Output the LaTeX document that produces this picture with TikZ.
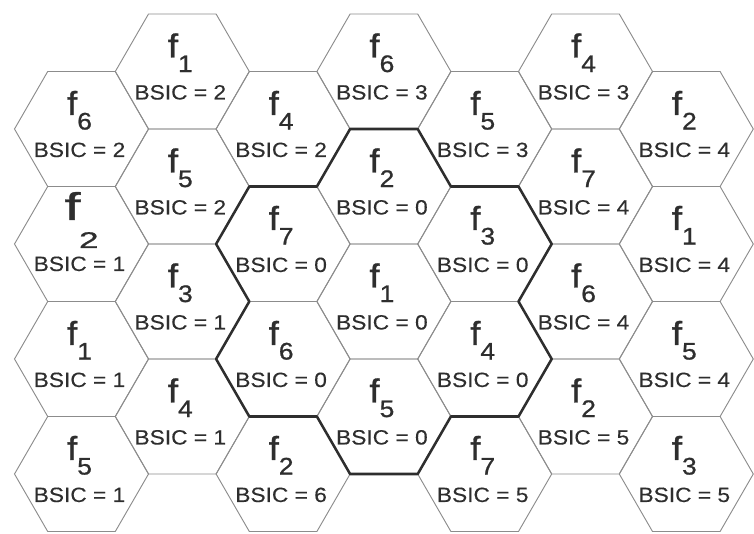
\documentclass[tikz,border=0pt]{standalone}
\usepackage{fontspec}
\setmainfont{Liberation Sans}
\newfontfamily\hexfont[FakeStretch=1.1, FakeBold=0.3]{Liberation Sans}
\newfontfamily\freqfont[FakeStretch=1.1, FakeBold=0.9]{Liberation Sans}
\usepackage{tikz}
\usetikzlibrary{calc}
\definecolor{ink}{HTML}{2E2E2E}
\definecolor{linegray}{HTML}{8C8C8C}
\newcommand\ffont{\freqfont\fontsize{25}{25}\selectfont}
\newcommand\subfont{\freqfont\fontsize{18}{18}\selectfont}
\newcommand\bsicfont{\hexfont\fontsize{15.5}{15.5}\selectfont}
% f with its number, BSIC line below
\newcommand\celltext[2]{%
  \makebox[0pt]{\ffont f\raisebox{-10.9pt}{\subfont #1}\hspace{3pt}}%
  \makebox[0pt]{\raisebox{-31.5pt}{\bsicfont BSIC = #2}\hspace{3pt}}}
\newcommand\bigcelltext[2]{%
  \makebox[0pt]{\scalebox{1.35}[1]{\freqfont\fontsize{29}{29}\selectfont f}%
    \kern-1pt\raisebox{-21pt}{\scalebox{1.4}[1]{\freqfont\fontsize{17}{17}\selectfont #1}}}%
  \makebox[0pt]{\raisebox{-38.25pt}{\bsicfont BSIC = #2}\hspace{3pt}}}
\tikzset{
  cell/.style={inner sep=0pt, outer sep=0pt, text=ink, text height=0pt, text depth=21pt},
  bigcell/.style={cell, text depth=36pt},
  hexline/.style={draw=linegray, line width=0.7pt},
  cluster/.style={draw=ink, line width=1.9pt, line join=round}
}

\begin{document}
\begin{tikzpicture}[x=0.75pt, y=-0.75pt]
  \useasboundingbox (0,0) rectangle (754,534);
  \clip (0,0) rectangle (754,534);
  % column 0
  \node[cell] (n00) at (81.5,129) {\celltext{6}{2}};
  \node[bigcell] (n01) at (81.5,244) {\bigcelltext{2}{1}};
  \node[cell] (n02) at (81.5,359) {\celltext{1}{1}};
  \node[cell] (n03) at (81.5,474) {\celltext{5}{1}};
  % column 1
  \node[cell] (n10) at (182.3,71.5) {\celltext{1}{2}};
  \node[cell] (n11) at (182.3,186.5) {\celltext{5}{2}};
  \node[cell] (n12) at (182.3,301.5) {\celltext{3}{1}};
  \node[cell] (n13) at (182.3,416.5) {\celltext{4}{1}};
  % column 2
  \node[cell] (n20) at (283.1,129) {\celltext{4}{2}};
  \node[cell] (n21) at (283.1,244) {\celltext{7}{0}};
  \node[cell] (n22) at (283.1,359) {\celltext{6}{0}};
  \node[cell] (n23) at (283.1,474) {\celltext{2}{6}};
  % column 3
  \node[cell] (n30) at (383.9,71.5) {\celltext{6}{3}};
  \node[cell] (n31) at (383.9,186.5) {\celltext{2}{0}};
  \node[cell] (n32) at (383.9,301.5) {\celltext{1}{0}};
  \node[cell] (n33) at (383.9,416.5) {\celltext{5}{0}};
  % column 4
  \node[cell] (n40) at (484.7,129) {\celltext{5}{3}};
  \node[cell] (n41) at (484.7,244) {\celltext{3}{0}};
  \node[cell] (n42) at (484.7,359) {\celltext{4}{0}};
  \node[cell] (n43) at (484.7,474) {\celltext{7}{5}};
  % column 5
  \node[cell] (n50) at (585.5,71.5) {\celltext{4}{3}};
  \node[cell] (n51) at (585.5,186.5) {\celltext{7}{4}};
  \node[cell] (n52) at (585.5,301.5) {\celltext{6}{4}};
  \node[cell] (n53) at (585.5,416.5) {\celltext{2}{5}};
  % column 6
  \node[cell] (n60) at (686.3,129) {\celltext{2}{4}};
  \node[cell] (n61) at (686.3,244) {\celltext{1}{4}};
  \node[cell] (n62) at (686.3,359) {\celltext{5}{4}};
  \node[cell] (n63) at (686.3,474) {\celltext{3}{5}};
  % hexagons
  \foreach \n in {n00,n01,n02,n03,n10,n11,n12,n13,n20,n21,n22,n23,n30,n31,n32,n33,
                  n40,n41,n42,n43,n50,n51,n52,n53,n60,n61,n62,n63}
    \draw[hexline] (\n) +(-67,0) -- +(-33.8,-57.5) -- +(33.8,-57.5) -- +(67,0)
      -- +(33.8,57.5) -- +(-33.8,57.5) -- cycle;
  % BSIC = 0 cluster
  \draw[cluster] ($(n31)+(-33.8,-57.5)$) -- ($(n31)+(33.8,-57.5)$) -- ($(n31)+(67,0)$)
    -- ($(n41)+(33.8,-57.5)$) -- ($(n41)+(67,0)$) -- ($(n41)+(33.8,57.5)$)
    -- ($(n42)+(67,0)$) -- ($(n42)+(33.8,57.5)$) -- ($(n42)+(-33.8,57.5)$)
    -- ($(n33)+(33.8,57.5)$) -- ($(n33)+(-33.8,57.5)$) -- ($(n33)+(-67,0)$)
    -- ($(n22)+(-33.8,57.5)$) -- ($(n22)+(-67,0)$) -- ($(n22)+(-33.8,-57.5)$)
    -- ($(n21)+(-67,0)$) -- ($(n21)+(-33.8,-57.5)$) -- ($(n21)+(33.8,-57.5)$)
    -- cycle;
\end{tikzpicture}
\end{document}
